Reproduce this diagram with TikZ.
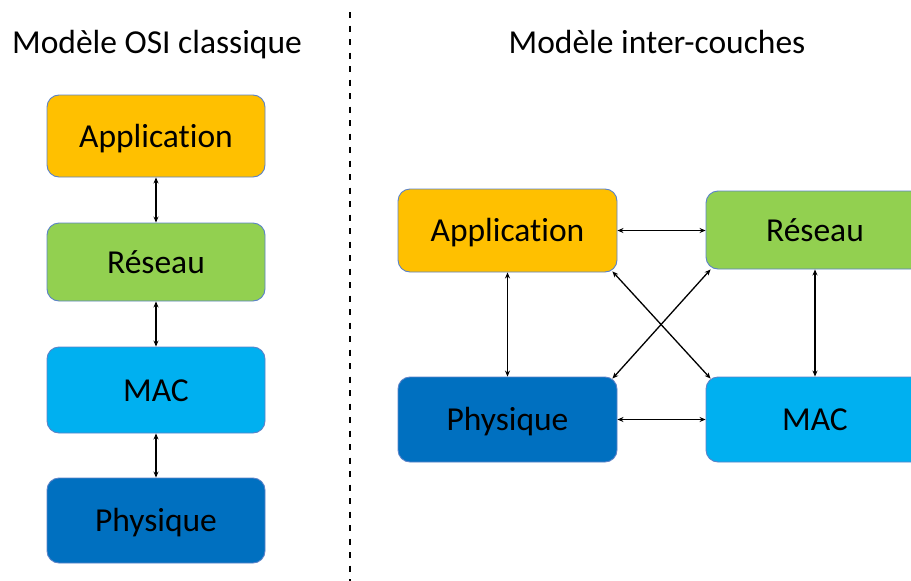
\documentclass[tikz,border=0pt]{standalone}
\usepackage{fontspec}
\setmainfont[Ligatures={NoCommon,NoContextual}]{Carlito}
\usetikzlibrary{arrows.meta}
\definecolor{cApp}{HTML}{FFC000}
\definecolor{cRes}{HTML}{92D050}
\definecolor{cMac}{HTML}{00B0F0}
\definecolor{cPhy}{HTML}{0070C0}
\definecolor{cBord}{HTML}{5B82C8}
\tikzset{
  layer/.style={draw=cBord, line width=0.9pt, rounded corners=12pt, minimum width=218pt, inner sep=0pt, text height=24pt, text depth=1.5pt, font=\fontsize{33.5}{38}\selectfont, text=black},
  title/.style={font=\fontsize{33.5}{38}\selectfont, text=black, inner sep=0pt, anchor=base},
  link/.style={line width=1.3pt, {Stealth[length=6pt,width=5pt]}-{Stealth[length=6pt,width=5pt]}},
  sep/.style={line width=2pt, dash pattern=on 6pt off 7.5pt}
}
\begin{document}
\begin{tikzpicture}[x=1pt,y=-1pt]
\useasboundingbox (0,0) rectangle (911,581);
\clip (0,0) rectangle (911,581);
% titles
\node[title] (t1) at (157,53) {Modèle OSI classique};
\node[title] (t2) at (657,53) {Modèle inter-couches};
% separator
\coordinate (s1) at (350,12);
\coordinate (s2) at (350,581);
\draw[sep] (s1) -- (s2);
% left column
\node[layer, fill=cApp, minimum height=82pt] (lApp) at (156,136) {Application};
\node[layer, fill=cRes, minimum height=78pt] (lRes) at (156,262) {Réseau};
\node[layer, fill=cMac, minimum height=86pt] (lMac) at (156,390) {MAC};
\node[layer, fill=cPhy, minimum height=85pt] (lPhy) at (156,520.5) {Physique};
\draw[link] (lApp) -- (lRes);
\draw[link] (lRes) -- (lMac);
\draw[link] (lMac) -- (lPhy);
% right
\node[layer, fill=cApp, minimum width=219pt, minimum height=83pt] (rApp) at (507.5,230.5) {Application};
\node[layer, fill=cRes, minimum height=78pt] (rRes) at (815,230) {Réseau};
\node[layer, fill=cPhy, minimum width=219pt, minimum height=85pt] (rPhy) at (507.5,419.5) {Physique};
\node[layer, fill=cMac, minimum height=85pt] (rMac) at (815,419.5) {MAC};
\draw[link] (rApp) -- (rPhy);
\draw[link] (rRes) -- (rMac);
\draw[link] (rApp.east) -- (rRes.west |- rApp.east);
\draw[link] (rPhy.east) -- (rMac.west |- rPhy.east);
\draw[link] ([xshift=-5pt,yshift=1pt]rApp.south east) -- ([xshift=5pt,yshift=-2pt]rMac.north west);
\draw[link] ([xshift=-5pt,yshift=-2pt]rPhy.north east) -- ([xshift=5pt,yshift=0pt]rRes.south west);
\end{tikzpicture}
\end{document}
